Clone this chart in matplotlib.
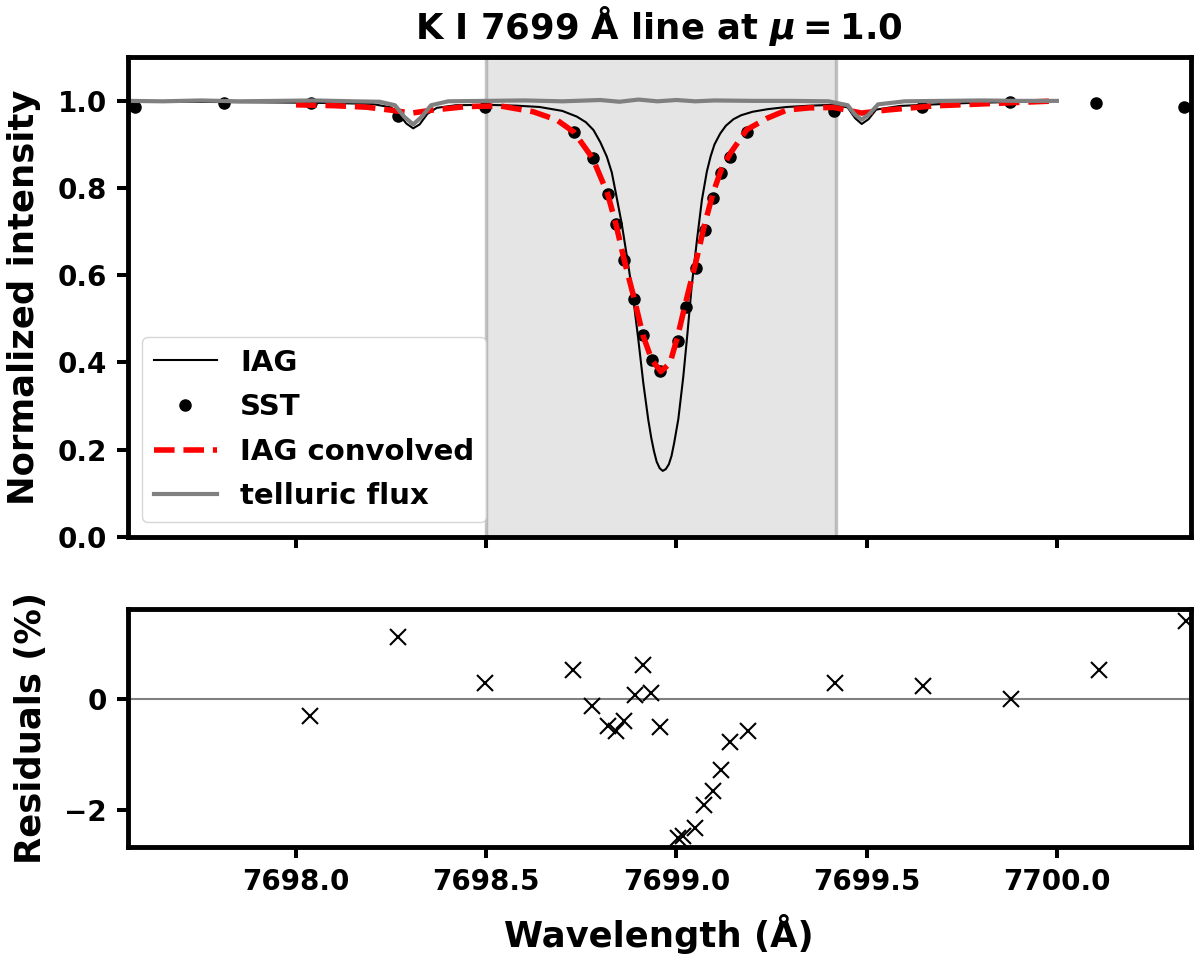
import matplotlib
matplotlib.use("Agg")
import matplotlib.pyplot as plt

# IAG atlas
iag_wl = [7697.56, 7697.70, 7697.85, 7698.00, 7698.10, 7698.20, 7698.25, 7698.27,
          7698.29, 7698.308, 7698.325, 7698.345, 7698.37, 7698.42, 7698.50, 7698.58,
          7698.64, 7698.70, 7698.738, 7698.762, 7698.782, 7698.800, 7698.817, 7698.830,
          7698.839, 7698.856, 7698.874, 7698.887, 7698.900, 7698.913, 7698.926, 7698.934,
          7698.941, 7698.948, 7698.956, 7698.964, 7698.972, 7698.980, 7698.987, 7698.994,
          7699.005, 7699.018, 7699.029, 7699.040, 7699.054, 7699.067, 7699.080, 7699.090,
          7699.100, 7699.115, 7699.130, 7699.150, 7699.170, 7699.200, 7699.240, 7699.290,
          7699.350, 7699.413, 7699.45, 7699.47, 7699.487, 7699.505, 7699.525, 7699.588,
          7699.680, 7699.764, 7700.0]
iag_int = [0.998, 0.998, 0.997, 0.996, 0.995, 0.993, 0.985, 0.970,
           0.948, 0.937, 0.946, 0.970, 0.984, 0.990, 0.991, 0.989,
           0.986, 0.977, 0.964, 0.951, 0.933, 0.905, 0.872, 0.836,
           0.796, 0.719, 0.620, 0.543, 0.451, 0.352, 0.268, 0.226,
           0.196, 0.172, 0.157, 0.151, 0.155, 0.166, 0.185, 0.215,
           0.270, 0.367, 0.467, 0.574, 0.681, 0.773, 0.838, 0.873,
           0.900, 0.925, 0.943, 0.958, 0.967, 0.975, 0.981, 0.986,
           0.989, 0.991, 0.985, 0.960, 0.947, 0.958, 0.980, 0.9885,
           0.992, 0.995, 1.0]

# SST observations
sst_wl = [7697.577, 7697.811, 7698.039, 7698.269, 7698.498, 7698.731, 7698.780, 7698.819,
          7698.841, 7698.863, 7698.889, 7698.912, 7698.935, 7698.958, 7699.003, 7699.025,
          7699.051, 7699.074, 7699.096, 7699.118, 7699.141, 7699.185, 7699.415, 7699.645,
          7699.876, 7700.104, 7700.335]
sst_int = [0.9855, 0.996, 0.996, 0.966, 0.9855, 0.928, 0.868, 0.787,
           0.717, 0.634, 0.546, 0.462, 0.406, 0.381, 0.448, 0.527,
           0.617, 0.703, 0.777, 0.834, 0.872, 0.929, 0.977, 0.985,
           0.997, 0.995, 0.987]

# IAG convolved with the SST profile
conv_wl = [7698.0, 7698.1, 7698.186, 7698.247, 7698.304, 7698.36, 7698.449, 7698.536,
           7698.624, 7698.686, 7698.731, 7698.780, 7698.819, 7698.841, 7698.863, 7698.889,
           7698.912, 7698.935, 7698.959, 7698.983, 7699.003, 7699.025, 7699.051, 7699.074,
           7699.096, 7699.118, 7699.141, 7699.185, 7699.238, 7699.290, 7699.35, 7699.413,
           7699.487, 7699.553, 7699.676, 7699.851, 7700.0]
conv_int = [0.991, 0.989, 0.9855, 0.979, 0.972, 0.979, 0.987, 0.9885,
            0.975, 0.956, 0.928, 0.868, 0.787, 0.717, 0.634, 0.546,
            0.462, 0.406, 0.379, 0.398, 0.459, 0.540, 0.630, 0.716,
            0.788, 0.843, 0.879, 0.934, 0.960, 0.979, 0.984, 0.985,
            0.972, 0.979, 0.9885, 0.9947, 1.0]

# telluric transmission
tell_wl = [7697.56, 7697.65, 7697.75, 7697.85, 7697.95, 7698.05, 7698.15, 7698.22,
           7698.26, 7698.285, 7698.308, 7698.33, 7698.355, 7698.40, 7698.5, 7698.6,
           7698.7, 7698.8, 7698.85, 7698.9, 7698.95, 7699.0, 7699.05, 7699.1,
           7699.2, 7699.3, 7699.4, 7699.45, 7699.47, 7699.487, 7699.505, 7699.53,
           7699.6, 7699.7, 7699.8, 7699.9, 7700.0]
tell_int = [1.0, 0.999, 1.001, 0.999, 1.0, 1.001, 0.999, 0.998,
            0.99, 0.963, 0.946, 0.963, 0.99, 0.999, 1.0, 1.001,
            0.999, 1.002, 0.998, 1.003, 0.999, 1.002, 0.999, 1.001,
            1.0, 1.0, 0.999, 0.99, 0.968, 0.957, 0.968, 0.992,
            0.999, 1.0, 1.001, 1.0, 1.0]

# residuals SST vs convolved IAG (%)
res_wl = [7698.036, 7698.267, 7698.497, 7698.729, 7698.778, 7698.819, 7698.841, 7698.863,
          7698.890, 7698.912, 7698.934, 7698.958, 7699.003, 7699.017, 7699.050, 7699.072,
          7699.096, 7699.118, 7699.141, 7699.187, 7699.418, 7699.647, 7699.879, 7700.11,
          7700.34]
res_val = [-0.31, 1.12, 0.30, 0.52, -0.12, -0.48, -0.57, -0.39,
           0.07, 0.62, 0.12, -0.51, -2.50, -2.47, -2.33, -1.92,
           -1.66, -1.28, -0.78, -0.57, 0.29, 0.23, 0.0, 0.52,
           1.42]

fit_range = (7698.5, 7699.42)

plt.rcParams['font.family'] = ['DejaVu Sans']
plt.rcParams['font.weight'] = 'bold'
plt.rcParams['axes.labelweight'] = 'bold'
plt.rcParams['axes.titleweight'] = 'bold'
plt.rcParams['axes.linewidth'] = 3.5
plt.rcParams['mathtext.fontset'] = 'dejavusans'

fig = plt.figure(figsize=(12, 9.63), dpi=100)
ax1 = fig.add_axes([0.1064, 0.4427, 0.8859, 0.4978])
ax2 = fig.add_axes([0.1064, 0.1205, 0.8859, 0.2471], sharex=ax1)

ax1.axvspan(fit_range[0], fit_range[1], facecolor=(0.5, 0.5, 0.5, 0.2),
            edgecolor=(0.5, 0.5, 0.5, 0.45), lw=2.5)
ax1.plot(iag_wl, iag_int, color='black', lw=1.5, label='IAG')
ax1.plot(sst_wl, sst_int, 'ko', ms=8, label='SST')
ax1.plot(conv_wl, conv_int, 'r--', lw=4, label='IAG convolved')
ax1.plot(tell_wl, tell_int, color='grey', lw=3, label='telluric flux')
ax1.set_ylim(0, 1.1)
ax1.set_yticks([0.0, 0.2, 0.4, 0.6, 0.8, 1.0])
ax1.set_ylabel('Normalized intensity', fontsize=25.5, labelpad=12)
ax1.set_title(r'K I 7699 Å line at $\boldsymbol{\mu = 1.0}$', fontsize=25.5, pad=13)
ax1.legend(loc='lower left', fontsize=21, handlelength=2.15, labelspacing=0.57)
ax1.tick_params(labelbottom=False)

ax2.axhline(0, color='grey', lw=1.5)
ax2.plot(res_wl, res_val, 'kx', ms=12, mew=1.5)
ax2.set_ylim(-2.67, 1.63)
ax2.set_yticks([-2, 0])
ax2.set_ylabel('Residuals (%)', fontsize=25.5, labelpad=12)
ax2.set_xlabel('Wavelength (Å)', fontsize=25.5, labelpad=13)
ax2.set_xlim(7697.5575, 7700.352)
ax2.set_xticks([7698.0, 7698.5, 7699.0, 7699.5, 7700.0])

for ax in (ax1, ax2):
    ax.tick_params(labelsize=20, length=8, width=2.9, pad=7)

fig.savefig('out.png', dpi=100)
